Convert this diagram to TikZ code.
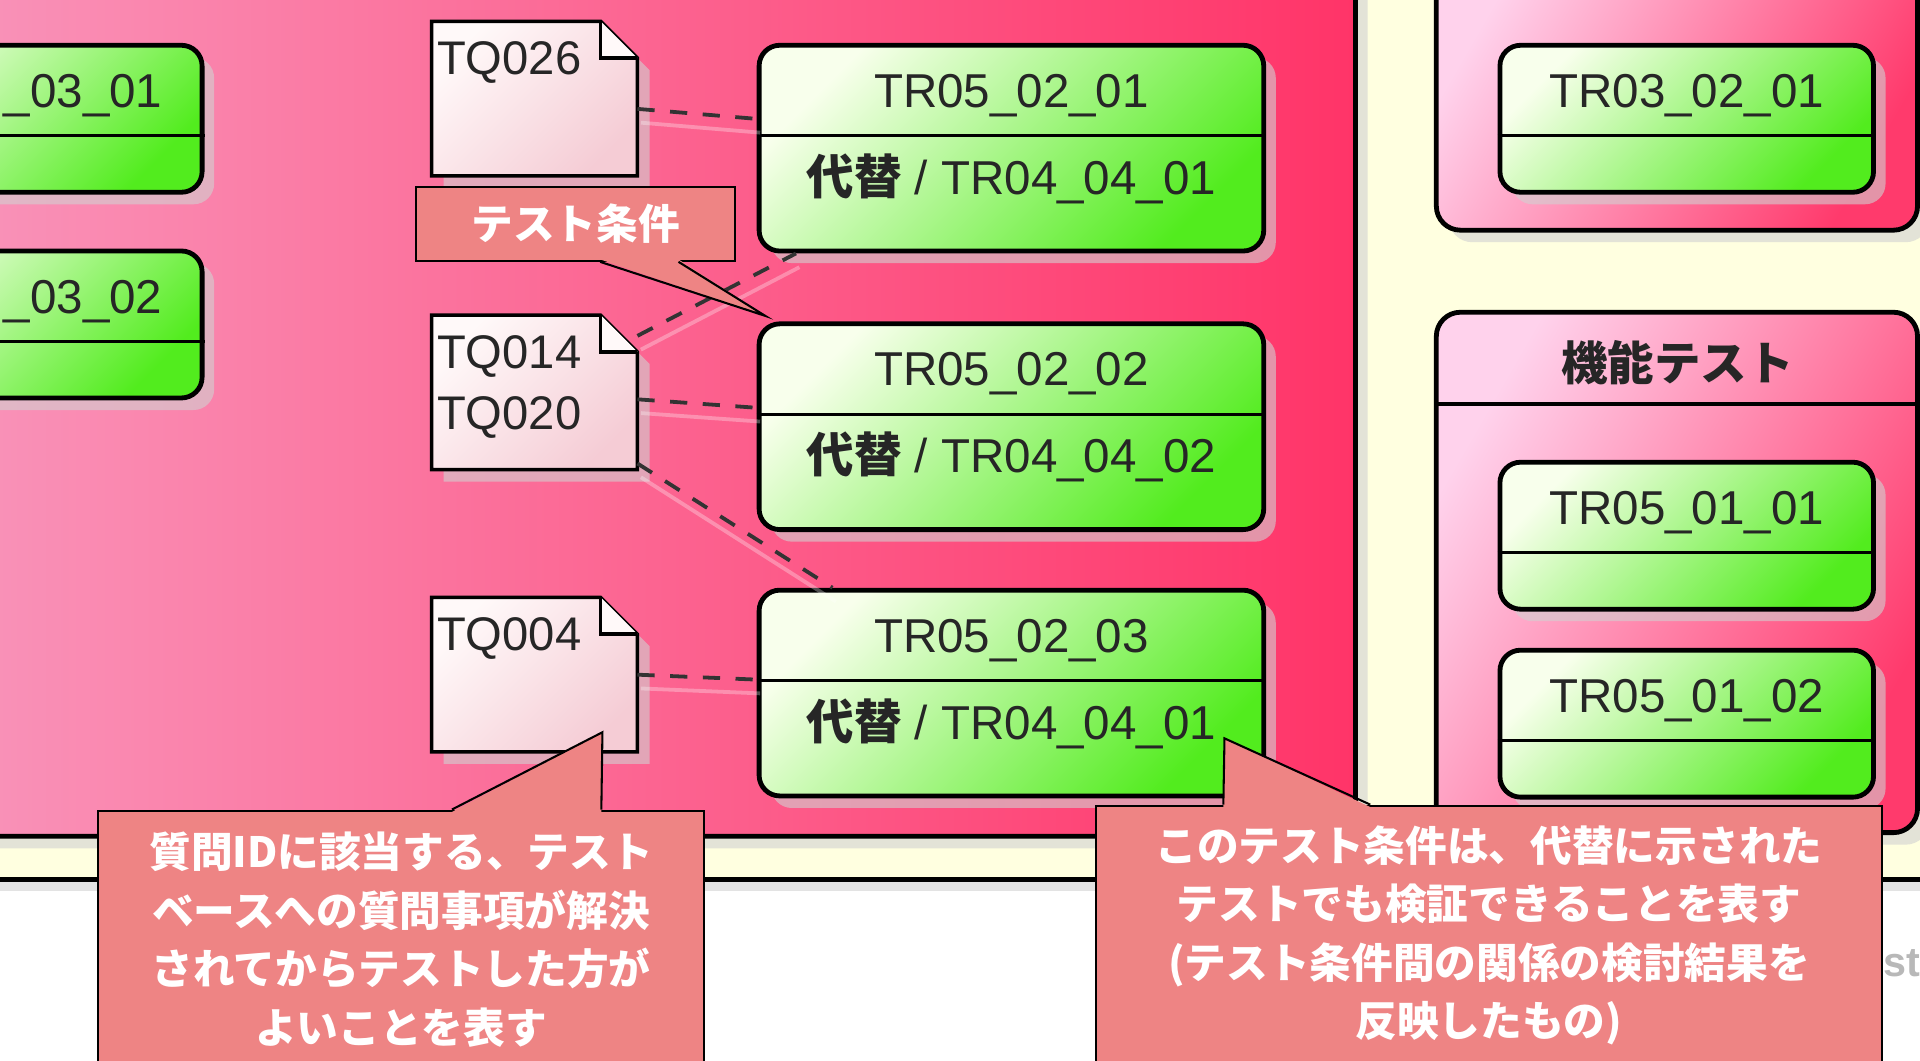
\documentclass[tikz,border=0pt]{standalone}
\usepackage{fontspec}
\setmainfont{Liberation Sans}
\newfontfamily\jp{Noto Sans CJK JP}
\usetikzlibrary{calc,shadows}

\definecolor{framel}{HTML}{F994BA}
\definecolor{framer}{HTML}{FF3468}
\definecolor{panell}{HTML}{FFD2EC}
\definecolor{panelr}{HTML}{FF3A6C}
\definecolor{boxl}{HTML}{F8FFEC}
\definecolor{boxr}{HTML}{52EC1E}
\definecolor{notel}{HTML}{FFF9F9}
\definecolor{noter}{HTML}{F5CCD5}
\definecolor{cream}{HTML}{FFFFE0}
\definecolor{callfill}{HTML}{EE8484}
\definecolor{linkgray}{HTML}{333333}

\tikzset{
    shadowed/.style={drop shadow={shadow xshift=3.5pt, shadow yshift=-3.5pt, opacity=.6, fill=black!18}},
    container/.style={draw=black, line width=1.4pt, fill=cream, shadowed},
    pinkframe/.style={draw=black, line width=1.4pt, rounded corners=7pt, shadowed,
        left color=framel, right color=framer},
    panel/.style={draw=black, line width=1.4pt, rounded corners=7pt, shadowed,
        top color=panell, bottom color=panelr, shading angle=60},
    tcbox/.style={draw=black, line width=1.4pt, rounded corners=6pt, inner sep=0pt, shadowed,
        top color=boxl, bottom color=boxr, shading angle=45},
    splitline/.style={line width=0.9pt},
    tctext/.style={inner sep=0pt, text=black!85, font=\fontsize{13.8pt}{16pt}\selectfont},
    tqnote/.style={draw=black, line width=1pt, top color=notel, bottom color=noter, shading angle=45},
    tqtext/.style={inner sep=0pt, anchor=north west, align=left, text=black!85,
        font=\fontsize{13.7pt}{17.8pt}\selectfont},
    tqlink/.style={draw=linkgray, line width=1.1pt, dash pattern=on 5pt off 4.5pt,
        preaction={draw=white, draw opacity=.3, line width=1.1pt, solid,
            transform canvas={shift={(1pt,-4pt)}}}},
    callbox/.style={fill=callfill, draw=black, line width=.6pt, inner sep=0pt, align=center,
        text=white, font=\jp\bfseries\fontsize{12.1pt}{17pt}\selectfont},
    callline/.style={line width=.6pt},
}

\begin{document}
\begin{tikzpicture}[x=0.0125cm, y=-0.0125cm]
    \useasboundingbox (0,0) rectangle (1568,866);
    \clip (0,0) rectangle (1568,866);
    \fill[white] (0,0) rectangle (1568,866);

    % packages
    \path[container] (-40,-40) rectangle (1620,718);
    \path[pinkframe] (-40,-40) rectangle (1107,683);
    \path[panel] (1173,-40) rectangle (1566,188);
    \path[panel] (1173,255) rectangle (1566,680);
    \draw[line width=1.2pt] (1173,330) -- (1566,330);
    \node[inner sep=0pt, text=black!85, font=\jp\bfseries\fontsize{13.5pt}{16pt}\selectfont] (kinou) at (1370,296) {機能テスト};

    % test conditions, left column (cut off)
    \foreach \nm/\y/\txt in {1/97/\_03\_01, 2/265/\_03\_02}{
        \node[tcbox, minimum width=3.8125cm, minimum height=1.5cm] (l\nm) at (12.5,\y) {};
        \draw[splitline] ($(l\nm.north west)+(0,76)$) -- ($(l\nm.north east)+(0,76)$);
        \node[tctext, anchor=west] (lt\nm) at ($(l\nm.north)+(-10,43)$) {\txt};
    }

    % test conditions with substitute
    \foreach \nm/\y/\txt/\sub in {1/121/01/01, 2/348.5/02/02, 3/566/03/01}{
        \node[tcbox, minimum width=5.15cm, minimum height=2.1cm] (b\nm) at (826,\y) {};
        \draw[splitline] ($(b\nm.north west)+(0,76)$) -- ($(b\nm.north east)+(0,76)$);
        \node[tctext] (bt\nm) at ($(b\nm.north)+(0,43)$) {TR05\_02\_\txt};
        \node[tctext] (bs\nm) at ($(b\nm.north)+(0,111)$) {{\jp\bfseries 代替} / TR04\_04\_\sub};
    }

    % test conditions, right column
    \foreach \nm/\y/\txt in {1/97/TR03\_02\_01, 2/437.5/TR05\_01\_01, 3/591/TR05\_01\_02}{
        \node[tcbox, minimum width=3.8125cm, minimum height=1.5cm] (r\nm) at (1377.5,\y) {};
        \draw[splitline] ($(r\nm.north west)+(0,76)$) -- ($(r\nm.north east)+(0,76)$);
        \node[tctext] (rt\nm) at ($(r\nm.north)+(0,43)$) {\txt};
    }

    % TQ notes
    \foreach \nm/\y/\txt in {26/80.5/TQ026, 14/320.5/{TQ014\\TQ020}, 04/551/TQ004}{
        \node[minimum width=2.0875cm, minimum height=1.5625cm, inner sep=0pt] (q\nm) at (436.5,\y) {};
        \shadedraw[tqnote, shadowed] (q\nm.north west) -- ($(q\nm.north east)+(-30,0)$)
            -- ($(q\nm.north east)+(0,30)$) -- (q\nm.south east) -- (q\nm.south west) -- cycle;
        \draw[line width=1pt, fill=notel] ($(q\nm.north east)+(-30,0)$) -- ($(q\nm.north east)+(-30,30)$)
            -- ($(q\nm.north east)+(0,30)$);
        \node[tqtext] (qt\nm) at ($(q\nm.north west)+(4,16)$) {\txt};
    }

    % links
    \draw[tqlink] ([yshift=-3pt]q26.east) -- ([yshift=8.5pt]b1.west);
    \draw[tqlink] ([yshift=-6pt]q14.north east) -- ([xshift=11.4pt]b1.south west);
    \draw[tqlink] ([yshift=-2pt]q14.east) -- ([yshift=5.5pt]b2.west);
    \draw[tqlink] ([yshift=1.8pt]q14.south east) -- ([xshift=22pt]b3.north west);
    \draw[tqlink] (q04.east) -- ([yshift=3.9pt]b3.west);

    \node[anchor=west, inner sep=0pt, text=black!28, font=\bfseries\fontsize{12pt}{14pt}\selectfont] (sttxt) at (1537.5,787) {st};

    % callouts
    \node[callbox, minimum width=3.25cm, minimum height=0.75cm] (c1) at (470,183) {テスト条件};
    \coordinate (c1tip) at (625,258);
    \fill[callfill] ($(c1.south west)+(151,-2)$) -- (c1tip) -- ($(c1.south west)+(215,-2)$) -- cycle;
    \draw[callline] ($(c1.south west)+(151,0)$) -- (c1tip) -- ($(c1.south west)+(215,0)$);

    \node[callbox, minimum width=6.1875cm, minimum height=2.6375cm] (c2) at (327.5,767.5)
        {質問IDに該当する、テスト\\ベースへの質問事項が解決\\されてからテストした方が\\よいことを表す};
    \coordinate (c2tip) at (492,598);
    \fill[callfill] ($(c2.north west)+(290,2)$) -- (c2tip) -- ($(c2.north west)+(412,2)$) -- cycle;
    \draw[callline] ($(c2.north west)+(290,0)$) -- (c2tip) -- ($(c2.north west)+(412,0)$);

    \node[callbox, minimum width=8.025cm, minimum height=2.65cm] (c3) at (1216,764)
        {このテスト条件は、代替に示された\\テストでも検証できることを表す\\(テスト条件間の関係の検討結果を\\反映したもの)};
    \coordinate (c3tip) at (1000,603);
    \fill[callfill] ($(c3.north west)+(105,2)$) -- (c3tip) -- ($(c3.north west)+(225,2)$) -- cycle;
    \draw[callline] ($(c3.north west)+(105,0)$) -- (c3tip) -- ($(c3.north west)+(225,0)$);
\end{tikzpicture}
\end{document}
